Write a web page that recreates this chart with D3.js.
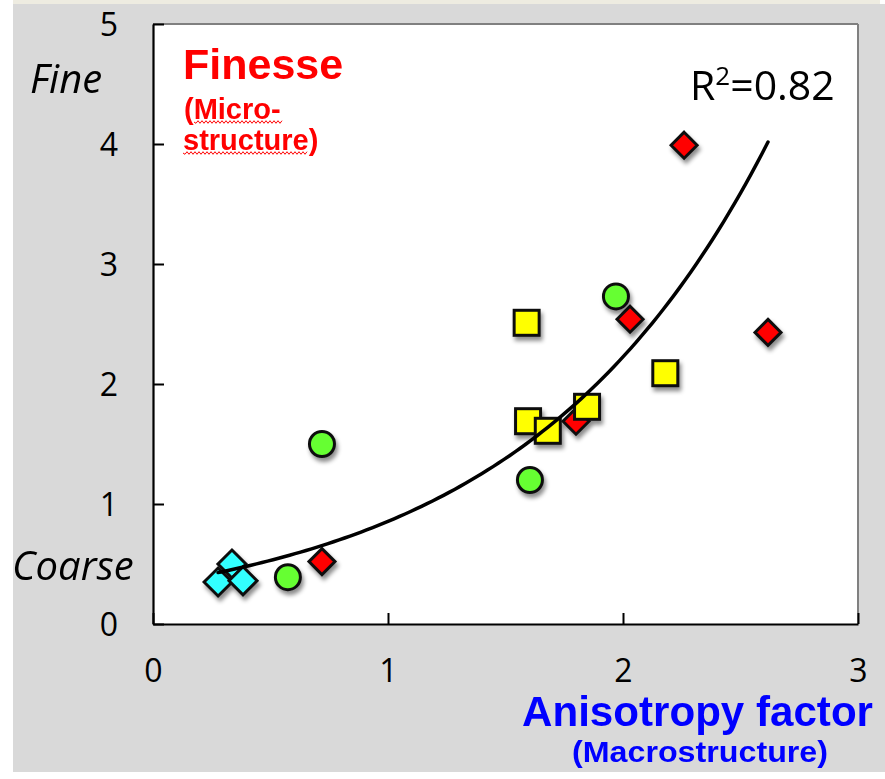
<!DOCTYPE html>
<html>
<head>
<meta charset="utf-8">
<script src="https://cdn.jsdelivr.net/npm/d3@7"></script>
<style>
  html, body { margin: 0; padding: 0; background: #ffffff; }
  svg { display: block; }
  .tick text { font-family: 'Open Sans', sans-serif; font-size: 32px; fill: #000; }
</style>
</head>
<body>
<svg id="chart" width="885" height="779"></svg>
<script>
// ---------------- data ----------------
const cyanX   = [0.336, 0.277, 0.383];
const cyanY   = [0.50, 0.35, 0.36];
const greenX  = [0.719, 0.574, 1.970, 1.604];
const greenY  = [1.50, 0.39, 2.73, 1.20];
const redX    = [0.719, 2.030, 1.800, 2.260, 2.617];
const redY    = [0.52, 2.54, 1.69, 3.99, 2.43];
const yellowX = [1.590, 2.180, 1.596, 1.680, 1.847];
const yellowY = [2.51, 2.09, 1.69, 1.61, 1.81];
const xTicks = [0, 1, 2, 3];
const yTicks = [0, 1, 2, 3, 4, 5];
const r2Label = "0.82";

// ---------------- layout ----------------
const svg = d3.select("#chart");
const L = 153, R = 858, T = 24, B = 624;
const x = d3.scaleLinear().domain([0, 3]).range([L, R]);
const y = d3.scaleLinear().domain([0, 5]).range([B, T]);

// backgrounds
svg.append("rect").attr("x", 13).attr("y", 0).attr("width", 867).attr("height", 4).attr("fill", "#eeece1");
svg.append("rect").attr("x", 13).attr("y", 4).attr("width", 872).attr("height", 768).attr("fill", "#d9d9d9");
svg.append("rect").attr("x", L).attr("y", T).attr("width", R - L).attr("height", B - T).attr("fill", "#ffffff");

// shadow filter
const defs = svg.append("defs");
const f = defs.append("filter").attr("id", "shadow").attr("x", "-50%").attr("y", "-50%").attr("width", "200%").attr("height", "200%");
f.append("feDropShadow").attr("dx", 2).attr("dy", 4).attr("stdDeviation", 2.2)
  .attr("flood-color", "#000").attr("flood-opacity", 0.45);

// plot frame (top/right grey)
svg.append("line").attr("x1", L).attr("x2", R).attr("y1", T).attr("y2", T).attr("stroke", "#808080").attr("stroke-width", 2);
svg.append("line").attr("x1", R).attr("x2", R).attr("y1", T).attr("y2", B).attr("stroke", "#808080").attr("stroke-width", 2);

// axes
const xAxis = d3.axisBottom(x).tickValues(xTicks).tickSizeInner(-11).tickSizeOuter(0).tickFormat(d3.format("d"));
const yAxis = d3.axisLeft(y).tickValues(yTicks).tickSizeInner(-11).tickSizeOuter(0).tickFormat(d3.format("d"));

const gx = svg.append("g").attr("transform", `translate(0,${B})`).call(xAxis);
gx.select(".domain").attr("stroke", "#000").attr("stroke-width", 2.2);
gx.selectAll(".tick line").attr("stroke", "#000").attr("stroke-width", 2);
gx.selectAll(".tick text").attr("y", 58).attr("dy", 0);

const gy = svg.append("g").attr("transform", `translate(${L},0)`).call(yAxis);
gy.select(".domain").attr("stroke", "#000").attr("stroke-width", 2.2);
gy.selectAll(".tick line").attr("stroke", "#000").attr("stroke-width", 2);
gy.selectAll(".tick text").attr("x", -35).attr("dy", "0.36em");

// ---------------- markers ----------------
const zip = (xs, ys) => xs.map((v, i) => ({ x: v, y: ys[i] }));
const gm = svg.append("g").attr("filter", "url(#shadow)");

gm.selectAll(".green").data(zip(greenX, greenY)).join("circle")
  .attr("cx", d => x(d.x)).attr("cy", d => y(d.y)).attr("r", 12.5)
  .attr("fill", "#66ff33").attr("stroke", "#111").attr("stroke-width", 3);

const diamond = s => `M0,${-s}L${s},0L0,${s}L${-s},0Z`;
gm.selectAll(".red").data(zip(redX, redY)).join("path")
  .attr("transform", d => `translate(${x(d.x)},${y(d.y)})`).attr("d", diamond(13))
  .attr("fill", "#ff0000").attr("stroke", "#111").attr("stroke-width", 3).attr("stroke-linejoin", "miter");

gm.selectAll(".yellow").data(zip(yellowX, yellowY)).join("rect")
  .attr("x", d => x(d.x) - 12.5).attr("y", d => y(d.y) - 12.5).attr("width", 25).attr("height", 25)
  .attr("fill", "#ffff00").attr("stroke", "#111").attr("stroke-width", 3);

gm.selectAll(".cyan").data(zip(cyanX, cyanY)).join("path")
  .attr("transform", d => `translate(${x(d.x)},${y(d.y)})`).attr("d", diamond(14))
  .attr("fill", "#33ffff").attr("stroke", "#111").attr("stroke-width", 3);

// ---------------- exponential trend (least squares on ln y) ----------------
const allX = [].concat(cyanX, greenX, redX, yellowX);
const allY = [].concat(cyanY, greenY, redY, yellowY);
const lnY = allY.map(v => Math.log(v));
const mx = d3.mean(allX), my = d3.mean(lnY);
let sxy = 0, sxx = 0;
allX.forEach((v, i) => { sxy += (v - mx) * (lnY[i] - my); sxx += (v - mx) * (v - mx); });
const b = sxy / sxx, a = Math.exp(my - b * mx);
const [x0, x1] = d3.extent(allX);
const curve = d3.range(0, 101).map(i => {
  const xv = x0 + (x1 - x0) * i / 100;
  return [xv, a * Math.exp(b * xv)];
});
svg.append("path").datum(curve)
  .attr("d", d3.line().x(d => x(d[0])).y(d => y(d[1])))
  .attr("fill", "none").attr("stroke", "#000").attr("stroke-width", 3.5).attr("stroke-linecap", "round");

// ---------------- texts ----------------
const sans = "'Liberation Sans', Arial, sans-serif";
const open = "'Open Sans', sans-serif";

svg.append("text").attr("x", 30).attr("y", 93).text("Fine")
  .attr("font-family", open).attr("font-style", "italic").attr("font-size", 40).attr("fill", "#000");
svg.append("text").attr("x", 12).attr("y", 580).text("Coarse")
  .attr("font-family", open).attr("font-style", "italic").attr("font-size", 40).attr("fill", "#000");

svg.append("text").attr("x", 183).attr("y", 79).text("Finesse")
  .attr("font-family", sans).attr("font-weight", "bold").attr("font-size", 43).attr("fill", "#ff0000");
svg.append("text").attr("x", 184).attr("y", 119).text("(Micro-")
  .attr("font-family", sans).attr("font-weight", "bold").attr("font-size", 29).attr("fill", "#ff0000");
svg.append("text").attr("x", 183).attr("y", 150).text("structure)")
  .attr("font-family", sans).attr("font-weight", "bold").attr("font-size", 29).attr("fill", "#ff0000");

// spell-check squiggles
function squiggle(xa, xb, yy) {
  let d = `M${xa},${yy}`;
  for (let xx = xa, k = 0; xx < xb; xx += 2, k++) d += `L${xx + 2},${yy + (k % 2 ? -1.3 : 1.3)}`;
  svg.append("path").attr("d", d).attr("fill", "none").attr("stroke", "#ff0000").attr("stroke-width", 1);
}
squiggle(194, 282, 122);
squiggle(183, 306, 153);

const r2 = svg.append("text").attr("x", 690).attr("y", 100)
  .attr("font-family", open).attr("font-size", 41).attr("fill", "#000");
r2.append("tspan").text("R");
r2.append("tspan").text("2").attr("font-size", 26).attr("dy", -15);
r2.append("tspan").text("=" + r2Label).attr("dy", 15);

svg.append("text").attr("x", 522).attr("y", 726).text("Anisotropy factor")
  .attr("font-family", sans).attr("font-weight", "bold").attr("font-size", 42).attr("fill", "#0000ff")
  .attr("textLength", 351).attr("lengthAdjust", "spacingAndGlyphs");
svg.append("text").attr("x", 572).attr("y", 762).text("(Macrostructure)")
  .attr("font-family", sans).attr("font-weight", "bold").attr("font-size", 30).attr("fill", "#0000ff")
  .attr("textLength", 256).attr("lengthAdjust", "spacingAndGlyphs");
</script>
</body>
</html>
